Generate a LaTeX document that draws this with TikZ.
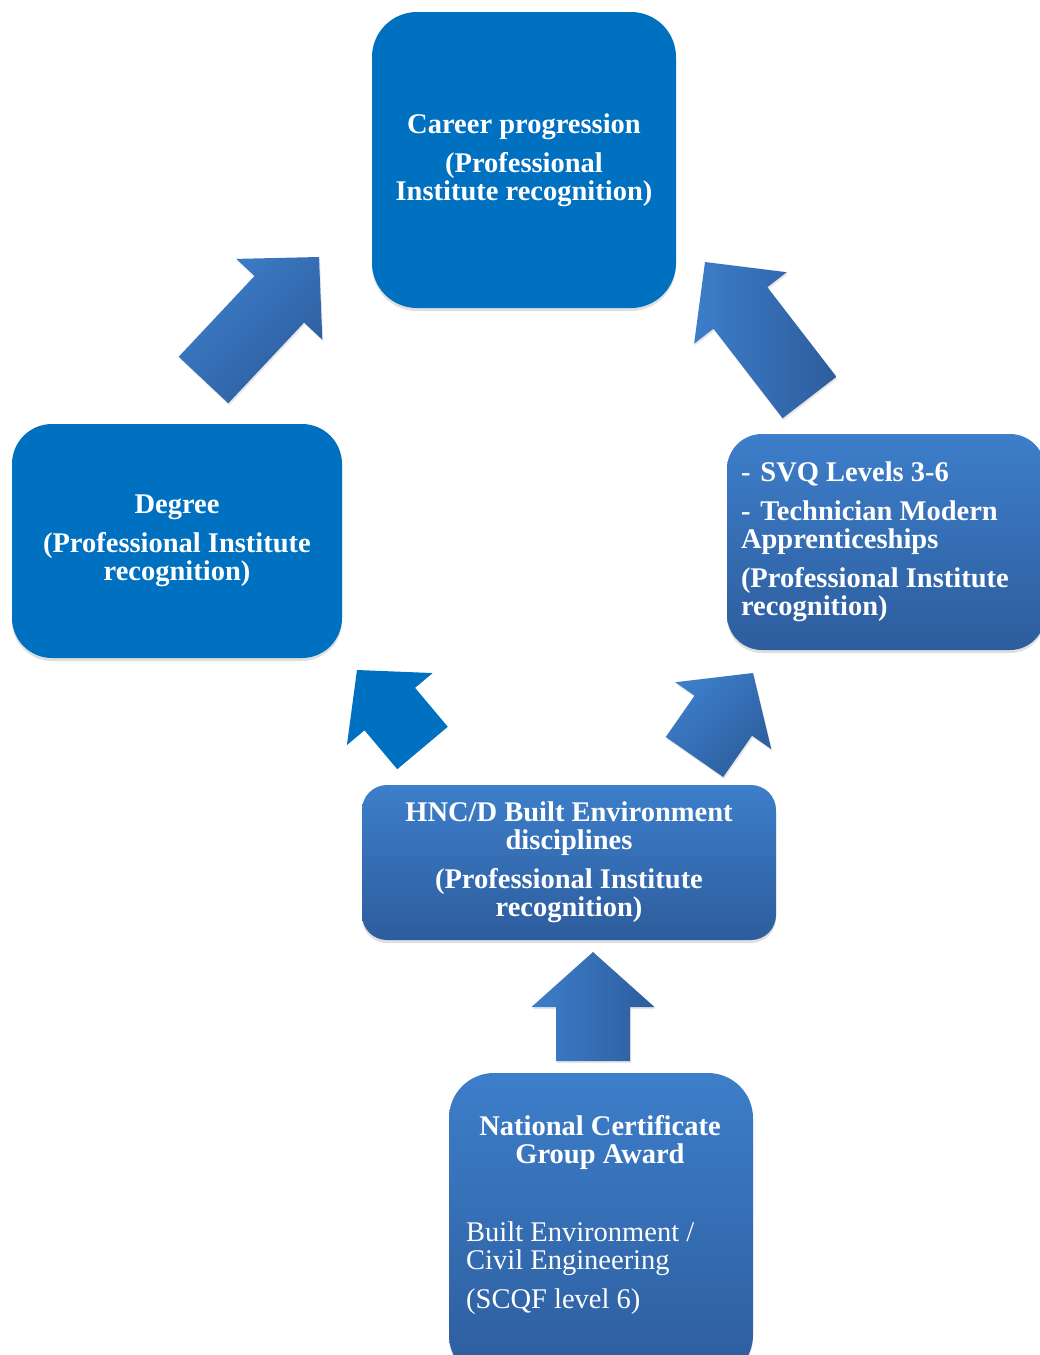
\documentclass[tikz,border=0pt]{standalone}
\usepackage{fontspec}
\setmainfont{Liberation Serif}
\usetikzlibrary{calc,shadows}
\definecolor{flatblue}{RGB}{0,112,192}
\definecolor{gradtop}{RGB}{61,126,202}
\definecolor{gradbot}{RGB}{45,93,157}
\newcommand{\blockarrow}[6][]{%
  \coordinate (neck) at ($(#3)!#6!(#2)$);
  \path[#1] ($(#2)!#4!90:(#3)$) -- ($(neck)!#4!90:(#3)$) -- ($(neck)!#5!90:(#3)$)
    -- (#3) -- ($(neck)!#5!-90:(#3)$) -- ($(neck)!#4!-90:(#3)$) -- ($(#2)!#4!-90:(#3)$) -- cycle;}
\begin{document}
\begin{tikzpicture}
  [x=1pt, y=-1pt,
   lbl/.style={text=white, inner sep=0pt, font=\bfseries\fontsize{28.5}{28}\selectfont, align=center},
   box/.style={lbl, rounded corners=#1,
     drop shadow={shadow xshift=0pt, shadow yshift=-3pt, opacity=0.25}},
   flatbox/.style={box=#1, fill=flatblue},
   gradbox/.style={box=#1, top color=gradtop, bottom color=gradbot},
   flatarrow/.style={fill=flatblue},
   gradarrow/.style={top color=gradtop, bottom color=gradbot, shading angle=#1,
     drop shadow={shadow xshift=1pt, shadow yshift=-2pt, opacity=0.2}}]
  \useasboundingbox (0,0) rectangle (1040,1355);

  \node[flatbox=45pt, minimum width=304pt, minimum height=296pt] (career) at (524,160)
    {Career progression\\[11pt] (Professional\\ Institute recognition)};
  \node[flatbox=40pt, minimum width=330pt, minimum height=234pt] (degree) at (177,541)
    {Degree\\[11pt] (Professional Institute\\ recognition)};
  \node[gradbox=35pt, minimum width=318pt, minimum height=216pt, text width=290pt, align=flush left] (svq) at (886,542)
    {-\hspace{10pt}SVQ Levels 3-6\\[11pt] -\hspace{10pt}Technician Modern\\ Apprenticeships\\[11pt] (Professional Institute\\ recognition)};
  \node[gradbox=25pt, minimum width=414pt, minimum height=155pt] (hnc) at (569,862.5)
    {HNC/D Built Environment\\ disciplines\\[11pt] (Professional Institute\\ recognition)};
  \node[gradbox=45pt, minimum width=304pt, minimum height=307pt] (nc) at (601,1226.5) {};
  \node[lbl] (nctitle) at (600,1142) {National Certificate\\ Group Award};
  \node[lbl, font=\fontsize{28.5}{28}\selectfont, align=left, anchor=north west] (ncbody) at (466,1222)
    {Built Environment /\\ Civil Engineering\\[11pt] (SCQF level 6)};

  \coordinate (degtail) at (203.5,380);  \coordinate (degtip) at (319,257);
  \coordinate (svqtail) at (809.5,397.5); \coordinate (svqtip) at (705,262);
  \coordinate (hncLtail) at (422.5,748);  \coordinate (hncLtip) at (357,670);
  \coordinate (hncRtail) at (694.5,757);  \coordinate (hncRtip) at (753,673);
  \coordinate (nctail) at (593,1061);     \coordinate (nctip) at (593,952);
  \blockarrow[gradarrow=45]{degtail}{degtip}{34pt}{59pt}{58pt}
  \blockarrow[gradarrow=90]{svqtail}{svqtip}{34pt}{58.5pt}{58pt}
  \blockarrow[flatarrow]{hncLtail}{hncLtip}{33pt}{56pt}{51pt}
  \blockarrow[gradarrow=45]{hncRtail}{hncRtip}{35pt}{58.5pt}{52pt}
  \blockarrow[gradarrow=90]{nctail}{nctip}{37pt}{61.5pt}{55pt}
\end{tikzpicture}
\end{document}
